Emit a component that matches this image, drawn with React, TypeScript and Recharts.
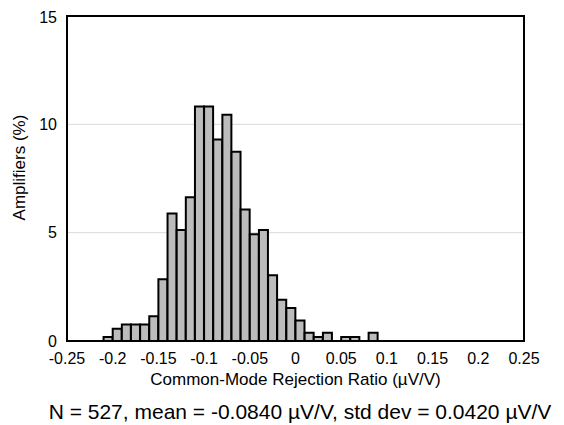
import React from 'react';
import { BarChart, Bar, XAxis, YAxis, CartesianGrid, ReferenceArea } from 'recharts';

// Bin centers (bin width 0.01) in µV/V
const binCenters = [
  -0.205, -0.195, -0.185, -0.175, -0.165, -0.155, -0.145, -0.135, -0.125, -0.115,
  -0.105, -0.095, -0.085, -0.075, -0.065, -0.055, -0.045, -0.035, -0.025, -0.015,
  -0.005, 0.005, 0.015, 0.025, 0.035, 0.045, 0.055, 0.065, 0.075, 0.085,
];
// Percent of amplifiers in each bin
const percents = [
  0.19, 0.57, 0.76, 0.76, 0.76, 1.14, 2.85, 5.88, 5.12, 6.64,
  10.82, 10.82, 9.3, 10.44, 8.73, 6.07, 4.93, 5.12, 3.04, 1.9,
  1.52, 0.95, 0.38, 0.19, 0.38, 0, 0.19, 0.19, 0, 0.38,
];
const xTicks = [-0.25, -0.2, -0.15, -0.1, -0.05, 0, 0.05, 0.1, 0.15, 0.2, 0.25];
const yTicks = [0, 5, 10, 15];
const xDomain: [number, number] = [-0.25, 0.25];
const yDomain: [number, number] = [0, 15];

const data = binCenters.map((c, i) => ({ center: c, pct: percents[i] }));

const FONT = '"Liberation Sans", Arial, sans-serif';

const XTitle = (props: any) => {
  const { viewBox } = props;
  const cx = viewBox.x + viewBox.width / 2;
  return (
    <text x={cx} y={viewBox.y + 38} textAnchor="middle" dominantBaseline="central"
      fontFamily={FONT} fontSize={17} fill="#000">
      Common-Mode Rejection Ratio (µV/V)
    </text>
  );
};

const YTitle = (props: any) => {
  const { viewBox } = props;
  const cx = 11;
  const cy = viewBox.y + viewBox.height / 2 - 11;
  return (
    <text x={cx} y={cy} textAnchor="middle" dominantBaseline="central"
      transform={`rotate(-90, ${cx}, ${cy})`} fontFamily={FONT} fontSize={17} fill="#000">
      Amplifiers (%)
    </text>
  );
};

export default function App() {
  return (
    <div style={{ position: 'relative', width: 548, height: 417, fontFamily: FONT }}>
      <BarChart width={548} height={390} data={data}
        margin={{ top: 8, right: 32, left: 0, bottom: 0 }}
        barCategoryGap={0} barGap={0}>
        <CartesianGrid vertical={false} stroke="#d9d9d9" strokeWidth={1} />
        <XAxis dataKey="center" type="number" domain={xDomain} ticks={xTicks}
          interval={0} allowDataOverflow height={57} tickLine={false}
          axisLine={false} tickMargin={6} tickFormatter={(v: number) => String(v)}
          tick={{ fontSize: 16, fill: '#000', fontFamily: FONT }}
          label={<XTitle />} />
        <YAxis type="number" domain={yDomain} ticks={yTicks} width={59}
          tickLine={false} axisLine={false} tickMargin={4}
          tick={{ fontSize: 16, fill: '#000', fontFamily: FONT }}
          label={<YTitle />} />
        <Bar dataKey="pct" fill="#bcbcbc" stroke="#000" strokeWidth={2}
          isAnimationActive={false} />
        <ReferenceArea x1={xDomain[0]} x2={xDomain[1]} y1={yDomain[0]} y2={yDomain[1]}
          fill="none" fillOpacity={0} stroke="#000" strokeWidth={2} ifOverflow="visible" />
      </BarChart>
      <div style={{ position: 'absolute', left: 0, top: 392, width: 584, textAlign: 'center',
        fontSize: 21, lineHeight: '24px', whiteSpace: 'nowrap', color: '#000' }}>
        N = 527, mean = -0.0840 µV/V, std dev = 0.0420 µV/V
      </div>
    </div>
  );
}
